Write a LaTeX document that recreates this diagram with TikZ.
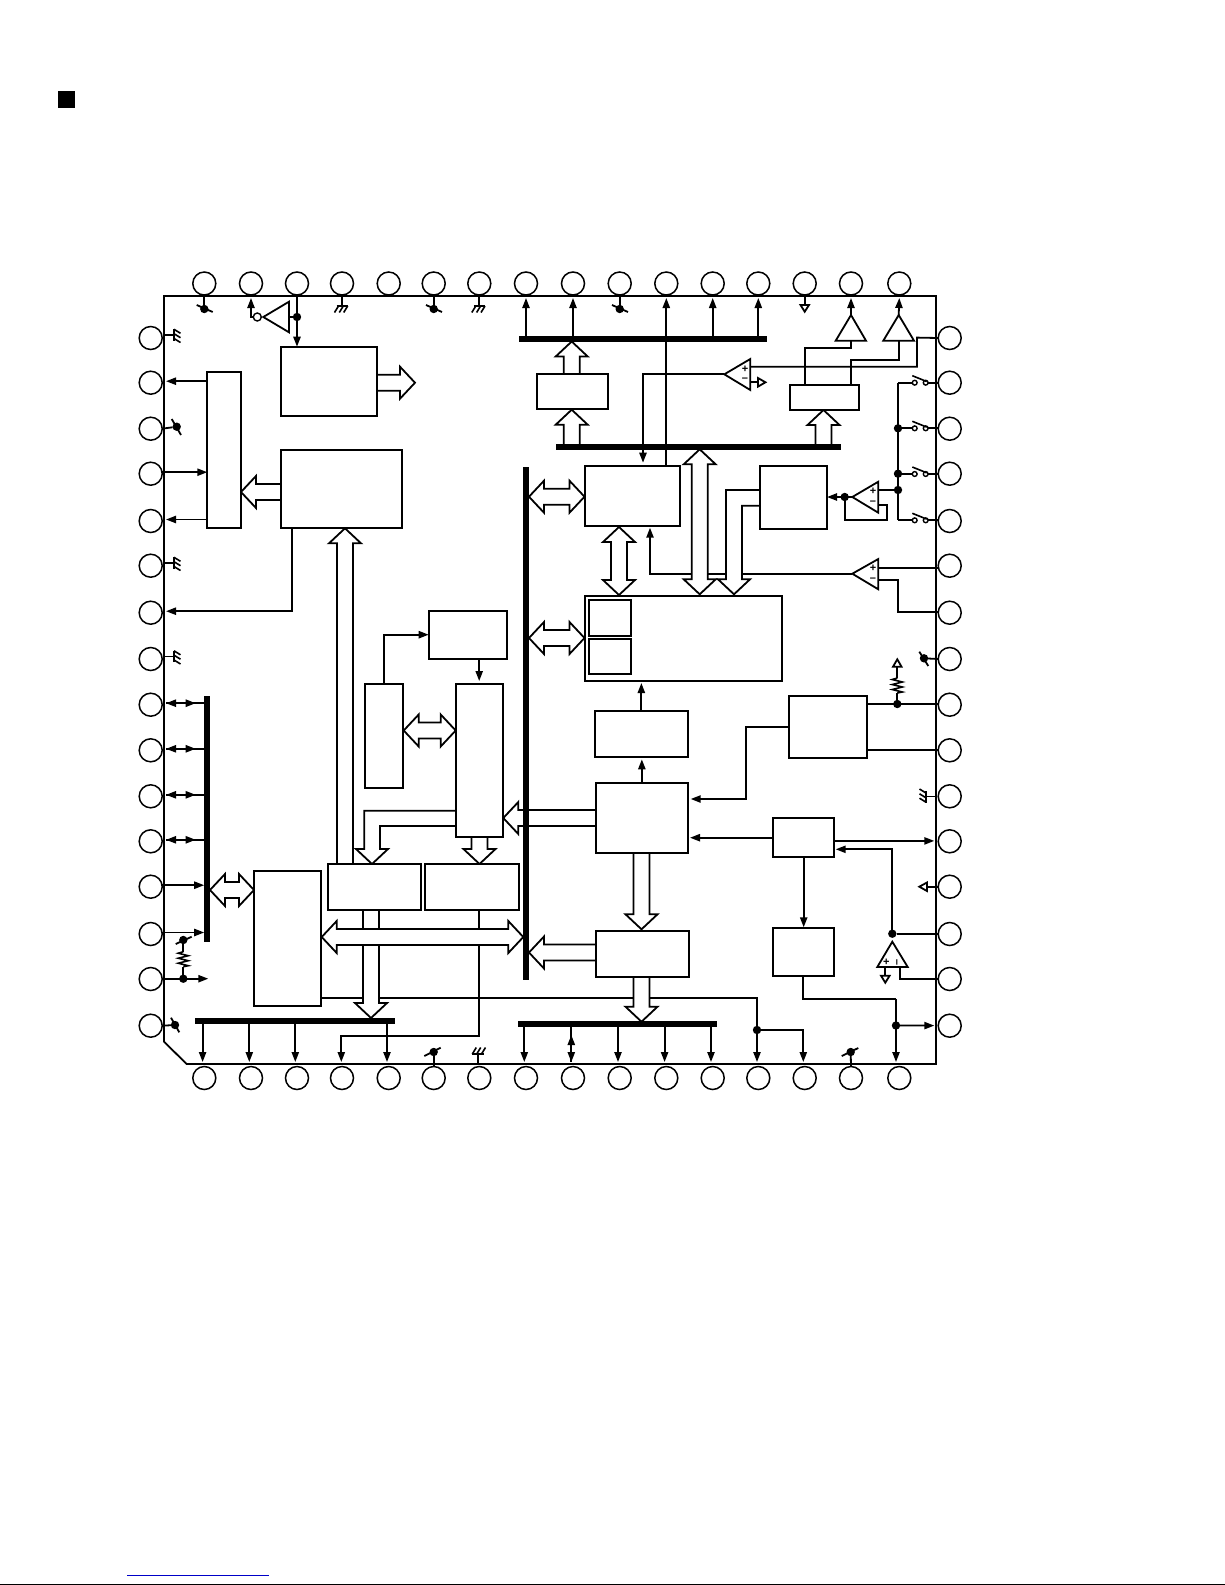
\documentclass[tikz,border=0pt]{standalone}
\usepackage{fontspec}
\setmainfont{Liberation Sans}
\usetikzlibrary{arrows.meta,calc}
\pgfdeclarelayer{back}
\pgfsetlayers{back,main}
\tikzset{
  wire/.style={line width=0.9pt,line join=miter},
  arr/.style={wire,-{Triangle[length=5pt,width=3.6pt]}},
  block/.style={draw,line width=0.9pt,fill=white,inner sep=0pt,outer sep=0pt},
  busbar/.style={fill=black,inner sep=0pt,outer sep=0pt},
  pinc/.style={circle,draw,line width=0.75pt,fill=white,inner sep=0pt,outer sep=0pt,minimum size=11.5pt},
  jdot/.style={circle,fill=black,inner sep=0pt,outer sep=0pt,minimum size=4.2pt},
  bub/.style={circle,draw,line width=0.7pt,fill=white,inner sep=0pt,outer sep=0pt,minimum size=#1},
  hollow/.style={line width=0.9pt,fill=white,line join=miter,draw=black},
  tinytri/.style={line width=0.9pt,fill=white,draw=black,line join=miter},
  polmark/.style={inner sep=0pt,outer sep=0pt,font=\fontsize{5.5}{5.5}\selectfont\bfseries},
  slashline/.style={line width=0.9pt}
}
\newcommand\mkbox[6]{%
  \pgfmathsetmacro\bw{(#5-#3)*0.5}\pgfmathsetmacro\bh{(#6-#4)*0.5}%
  \node[#1,minimum width=\bw pt,minimum height=\bh pt] (#2) at ({(#3+#5)/2},{(#4+#6)/2}) {};}
% single hollow arrow: base, tip
\newcommand\hol[2]{%
  \coordinate (hB) at #1; \coordinate (hT) at #2;
  \coordinate (hH) at ($(hT)!7.5pt!(hB)$);
  \path[hollow,draw=none] ($(hB)!4pt!90:(hT)$) -- ($(hH)!4pt!90:(hT)$) -- ($(hH)!4pt!-90:(hT)$) -- ($(hB)!4pt!-90:(hT)$) -- cycle;
  \draw[hollow] ($(hB)!4pt!90:(hT)$) -- ($(hH)!4pt!90:(hT)$) -- ($(hH)!8pt!90:(hT)$) -- (hT) -- ($(hH)!8pt!-90:(hT)$) -- ($(hH)!4pt!-90:(hT)$) -- ($(hB)!4pt!-90:(hT)$);}
% double hollow arrow: tip, tip
\newcommand\dbl[2]{%
  \coordinate (hA) at #1; \coordinate (hT) at #2;
  \coordinate (hH) at ($(hT)!7.5pt!(hA)$);
  \coordinate (hI) at ($(hA)!7.5pt!(hT)$);
  \draw[hollow] (hA) -- ($(hI)!8pt!90:(hT)$) -- ($(hI)!4pt!90:(hT)$) -- ($(hH)!4pt!90:(hT)$) -- ($(hH)!8pt!90:(hT)$) -- (hT) -- ($(hH)!8pt!-90:(hT)$) -- ($(hH)!4pt!-90:(hT)$) -- ($(hI)!4pt!-90:(hT)$) -- ($(hI)!8pt!-90:(hT)$) -- cycle;}
% ground: root point, rotation
\newcommand\gnd[2]{%
  \begin{scope}[shift={#1},rotate=#2]
    \draw[wire] (0,-10) -- (0,0) (-5.5,0) -- (6,0);
    \draw[wire,line width=0.8pt] (-3.5,0) -- (-7.5,6.5) (1.3,0) -- (-2.7,6.5) (5.7,0) -- (1.7,6.5);
  \end{scope}}
% no-connect dot: name, x, y, slash ends
\newcommand\nc[7]{%
  \node[jdot] (#1) at (#2,#3) {};
  \draw[slashline] (#4,#5) -- (#6,#7);}
\newcommand\zig[2]{%
  \draw[wire,line width=0.8pt] (#1,#2) -- ++(-5,1.5) -- ++(10,2.5) -- ++(-10,2.5) -- ++(10,2.5) -- ++(-10,2.5) -- ++(10,2.5) -- ++(-5,1);}
\begin{document}
\begin{tikzpicture}[x=0.5pt,y=-0.5pt]
\useasboundingbox (0,0) rectangle (1225,1585);
\begin{pgfonlayer}{back}
\fill[white] (0,0) rectangle (1225,1585);
\end{pgfonlayer}
\fill[black] (58,91) rectangle (75,108);
\draw[line width=0.5pt,color={rgb,255:red,0;green,0;blue,200}] (127,1575.3) -- (268.7,1575.3);
\draw[line width=0.8pt] (0,1584.3) -- (1225,1584.3);
% pins
\foreach \i/\x in {1/204.3,2/251,3/297,4/342,5/388.7,6/433.7,7/479.3,8/526,9/573,10/619.7,11/666.3,12/712.7,13/758.3,14/804.7,15/851,16/899.3}{
  \node[pinc] (T\i) at (\x,283.5) {};
  \node[pinc] (B\i) at (\x,1078) {};
  \coordinate (ti\i) at (\x,298);
  \coordinate (bi\i) at (\x-1.7,1062);
}
\foreach \i/\y in {1/338,2/382.7,3/428.7,4/473.7,5/521,6/565.7,7/612.7,8/659,9/704.7,10/750.3,11/796.3,12/841.3,13/886.7,14/934,15/979,16/1025.7}{
  \node[pinc] (L\i) at (150.7,\y) {};
  \node[pinc] (R\i) at (949.7,\y) {};
  \coordinate (li\i) at (166,\y-1.5);
  \coordinate (ri\i) at (934.3,\y-0.4);
}
% blocks
\mkbox{block}{bA}{280.7}{346.7}{376.7}{416}
\mkbox{block}{bB}{207.3}{372}{241}{527.7}
\mkbox{block}{bC}{280.7}{450}{401.7}{527.7}
\mkbox{block}{bD}{537.3}{373.7}{608.3}{409}
\mkbox{block}{bF}{584.7}{466}{680}{526}
\mkbox{block}{bG}{789.7}{385}{859.3}{410}
\mkbox{block}{bH}{760}{466}{827}{528.7}
\mkbox{block}{bI}{584.7}{596}{782}{681}
\mkbox{block}{bIa}{588.7}{600}{631}{635.7}
\mkbox{block}{bIb}{588.7}{638.7}{631}{674.3}
\mkbox{block}{bJ}{789}{695.7}{867.3}{758.3}
\mkbox{block}{bK}{594.7}{710.7}{688}{757}
\mkbox{block}{bL}{595.7}{783.3}{688}{853.3}
\mkbox{block}{bM}{772.7}{817.7}{834.3}{856.7}
\mkbox{block}{bN}{772.7}{928}{834.3}{975.7}
\mkbox{block}{bO}{595.7}{930.7}{689}{976.7}
\mkbox{block}{bP}{455.7}{684}{502.7}{836.7}
\mkbox{block}{bQ}{254}{871}{321}{1005.7}
\mkbox{block}{bE}{328}{864.3}{421.3}{910}
\mkbox{block}{bR}{425.3}{864.3}{519}{910}
\mkbox{block}{bS}{365}{684}{403.3}{787.7}
\mkbox{block}{bT}{428.7}{610.7}{507.3}{658.7}
% buses
\mkbox{busbar}{busa}{519}{335.9}{767}{341.5}
\mkbox{busbar}{busb}{556}{443.9}{840.7}{449.5}
\mkbox{busbar}{busv}{523.2}{466.7}{528.8}{980}
\mkbox{busbar}{busl}{204.2}{696}{209.8}{941.7}
\mkbox{busbar}{busc}{195}{1017.9}{395}{1023.5}
\mkbox{busbar}{busd}{518.3}{1021.2}{716.7}{1026.8}
% amplifier and buffer triangles
\coordinate (invA) at (263.3,317); \coordinate (invB) at (289,317);
\draw[tinytri] (invA) -- (289,301.7) -- (289,332.3) -- cycle;
\node[bub=4pt] (invO) at (257.3,317) {};
\coordinate (cmpa) at (724.3,374.3);
\draw[tinytri] (cmpa) -- (750.3,359) -- (750.3,390) -- cycle;
\coordinate (cmpb) at (852.3,497);
\draw[tinytri] (cmpb) -- (878.3,481.7) -- (878.3,512.7) -- cycle;
\coordinate (cmpc) at (852.3,573.7);
\draw[tinytri] (cmpc) -- (878.3,559) -- (878.3,589.3) -- cycle;
\coordinate (bufa) at (851,315);
\draw[tinytri] (bufa) -- (866,340.7) -- (835.7,340.7) -- cycle;
\coordinate (bufb) at (898.7,315);
\draw[tinytri] (bufb) -- (914,340.7) -- (883.3,340.7) -- cycle;
\coordinate (opa) at (892.3,941.7);
\draw[tinytri] (opa) -- (907.7,967) -- (877.3,967) -- cycle;
% polarity marks
\node[polmark] at (745,369) {+};
\node[polmark] at (745,380) {–};
\node[polmark] at (873,491) {+};
\node[polmark] at (873,503) {–};
\node[polmark] at (873,568.5) {+};
\node[polmark] at (873,580) {–};
\node[polmark] at (886.3,962) {+};
\node[polmark,rotate=90] at (898,962) {–};
% junction dots
\node[jdot] (dInv) at (297,317) {};
\node[jdot] (dSa) at (898,428.3) {};
\node[jdot] (dSb) at (898,473.7) {};
\node[jdot] (dSc) at (898,490) {};
\node[jdot] (dCmp) at (844.7,497) {};
\node[jdot] (dRr) at (897.3,704) {};
\node[jdot] (dRl) at (183.3,978.7) {};
\node[jdot] (dOp) at (892.3,933.7) {};
\node[jdot] (dNa) at (757,1030) {};
\node[jdot] (dNb) at (896,1025.5) {};
% no-connect symbols
\nc{ncA}{204.3}{309}{196.7}{305}{212.7}{312}
\nc{ncB}{433.7}{309}{426}{305}{442}{312}
\nc{ncC}{619.7}{309}{612}{305}{628}{312}
\nc{ncD}{176.7}{426.7}{171.7}{419}{181}{435}
\nc{ncE}{924}{658.3}{919.3}{651.7}{928.3}{666}
\nc{ncF}{183.3}{940}{175.7}{944}{191.7}{936.7}
\nc{ncG}{175}{1025}{171}{1017.7}{179.3}{1032.3}
\nc{ncH}{433.7}{1052}{424.3}{1056}{440.7}{1047.7}
\nc{ncI}{850.7}{1052}{841.7}{1056}{858.3}{1048}
% grounds
\gnd{(342,306)}{0}
\gnd{(479.3,306)}{0}
\gnd{(174,335)}{90}
\gnd{(174,563)}{90}
\gnd{(174,656.5)}{90}
\gnd{(478,1054)}{180}
\gnd{(926,796.5)}{-90}
% switches
\foreach \p/\y in {2/382.7,3/428.3,4/474,5/520.3}{
  \node[bub=2.4pt] (sa\p) at (914.7,\y) {};
  \node[bub=2.4pt] (sb\p) at (925.7,\y) {};
  \draw[wire,line width=0.8pt] (912.3,\y-7) -- (926.7,\y-1.2);
}
\coordinate (vsw) at (898,400);
\begin{pgfonlayer}{back}
% chip outline
\draw[wire] (164,296) -- (936,296) -- (936,1064) -- (186.7,1064) -- (164,1041.7) -- cycle;
% stubs to no-connects
\draw[wire] (T1.south) -- (ncA);
\draw[wire] (T6.south) -- (ncB);
\draw[wire] (T10.south) -- (ncC);
\draw[wire] (L3.east) -- (ncD);
\draw[wire] (R8.west) -- (ncE);
\draw[wire] (L16.east) -- (ncG);
\draw[wire] (B6.north) -- (ncH);
\draw[wire] (B15.north) -- (ncI);
% top left
\draw[arr] (invO.west) -| (ti2);
\draw[wire] (dInv) -- (invB);
\draw[arr] (T3.south) -- (T3 |- bA.north);
\draw[arr] (bB.west |- li2) -- (li2);
\draw[arr] (L4.east |- li4) -- (bB.west |- li4);
\draw[arr] (bB.west |- li5) -- (li5);
\draw[arr] (292.3,0 |- bC.south) |- (li7);
% connector S to T to P
\draw[arr] (bS.north) |- (bT.west);
\draw[arr] (bP.north |- bT.south) -- (bP.north |- 0,681);
% upper bus arrows
\draw[arr] (ti8 |- busa.north) -- (ti8);
\draw[arr] (ti9 |- busa.north) -- (ti9);
\draw[arr] (ti11 |- bF.north) -- (ti11);
\draw[arr] (ti12 |- busa.north) -- (ti12);
\draw[arr] (ti13 |- busa.north) -- (ti13);
% comparator one
\draw[arr] (cmpa) -| (643,462.7);
\draw[wire] (750.3,366.7) -- (917,366.7) -- (917,337.6) -- (R1.west);
\draw[wire] (750.3,382.3) -- (758,382.3);
\draw[arr] (bufa) -- (ti15);
\draw[arr] (bufb) -- (ti16);
\draw[wire] (805,0 |- bG.north) -- (805,348) -- (851,348) -- (851,340.7);
\draw[wire] (851.3,0 |- bG.north) -- (851.3,360) -- (898.7,360) -- (898.7,340.7);
\draw[wire] (T14.south) -- (804.7,305);
% switches
\foreach \p in {2,3,4,5}{
  \draw[wire] (vsw |- sa\p) -- (sa\p.west);
  \draw[wire] (sb\p.east) -- (sb\p -| R\p.west);
}
\draw[wire] (vsw |- sa2) -- (vsw |- sa5);
% comparator two
\draw[wire] (878.3,490) -- (dSc);
\draw[wire] (878.3,505) -- (886.7,505) -- (886.7,520.3) -- (844.7,520.3) -- (dCmp);
\draw[arr] (cmpb) -- (bH.east |- cmpb);
% comparator three
\draw[arr] (cmpc) -| (650,527.7);
\draw[wire] (878.3,568.3) -- (R6.west |- 0,568.3);
\draw[wire] (878.3,580) -- (898.3,580) -- (898.3,612.3) -- (R7.west |- 0,612.3);
% resistors and J
\draw[wire] (dRr) -- (dRr |- 0,693);
\zig{897.3}{678}
\draw[wire] (897.3,678) -- (897.3,666.7);
\draw[wire] (bJ.east |- dRr) -- (R9.west |- dRr);
\draw[wire] (bJ.east |- 0,750) -- (R10.west |- 0,750);
\draw[arr] (bJ.west |- 0,727) -- (746,727) -- (746,799) -- (690.7,799);
\draw[arr] (bK.north) -- (bK.north |- 0,683);
\draw[arr] (bL.north) -- (bL.north |- 0,759.3);
% M and N
\draw[arr] (bM.west |- 0,837.7) -- (690,837.7);
\draw[arr] (bM.east |- ri12) -- (ri12);
\draw[arr] (dOp) -- (892.3,849.3) -- (835.7,849.3);
\draw[wire] (dOp) -- (R14.west |- dOp);
\draw[wire] (900,967) -- (900,979.3) -- (R15.west |- 0,979.3);
\draw[wire] (885.3,967) -- (885.3,975.7);
\draw[arr] (803.7,0 |- bM.south) -- (803.7,927.3);
\draw[wire] (803.3,0 |- bN.south) -- (803.3,999) -- (896,999);
\draw[arr] (896,999) -- (896,1062);
\draw[arr] (dNb) -- (934.3,1025.6);
% hollow triangle stubs
\draw[wire] (R13.west) -- (927,886.7);
% left bus
\foreach \p in {9,10,11,12}{
  \draw[arr] (busl.west |- li\p) -- (li\p);
  \draw[arr] (li\p) -- (195.7,0 |- li\p);
}
\draw[arr] (L13.east |- li13) -- (busl.west |- li13);
\draw[arr] (L14.east |- li14) -- (busl.west |- li14);
\draw[arr] (L15.east |- dRl) -- (208.3,978.7);
\draw[wire] (dRl) -- (183.3,966.7);
\zig{183.3}{951.7}
\draw[wire] (183.3,951.7) -- (ncF);
% bottom rows
\foreach \p in {1,2,3,5}{\draw[arr] (bi\p |- busc.south) -- (bi\p);}
\foreach \p in {8,9,10,11,12}{\draw[arr] (bi\p |- busd.south) -- (bi\p);}
\draw[arr] (bi9) -- (bi9 |- 0,1035);
\draw[arr] (479,0 |- bR.south) -- (479,1036.3) -- (341.3,1036.3) -- (341.3,1062);
\draw[wire] (bQ.east |- 0,998) -- (757,998) -- (dNa);
\draw[arr] (dNa) -- (757,1062);
\draw[arr] (dNa) -- (803.3,1030) -- (803.3,1062);
% hollow arrows
\hol{(bA.east |- 0,382.7)}{(415,382.7)}
\hol{(bC.west |- 0,492)}{(bB.east |- 0,492)}
\hol{(345,864.3)}{(345,528.3)}
\hol{(571.7,409)}{(571.7,341.5)}
\hol{(571.7,446.7)}{(571.7,409.7)}
\hol{(823.5,446.7)}{(823.5,410)}
\dbl{(699.7,449.3)}{(699.7,594.3)}
\dbl{(619,527)}{(619,595)}
\dbl{(529,496.7)}{(584.5,496.7)}
\dbl{(529,638)}{(584.5,638)}
\dbl{(403.7,730.5)}{(455.7,730.5)}
\dbl{(210,890)}{(254,890)}
% hollow L shape from H to I
\draw[hollow] (bH.west |- 0,490) -- (726,490) -- (726,579.3) -- (718,579.3) -- (734,594.3) -- (750,579.3) -- (742,579.3) -- (742,505.7) -- (bH.west |- 0,505.7);
% hollow L shape from P to E
\draw[hollow] (bP.west |- 0,810.7) -- (364.3,810.7) -- (364.3,849) -- (356,849) -- (372,864) -- (388,849) -- (380,849) -- (380,826) -- (bP.west |- 0,826);
\hol{(479.5,836.7)}{(479.5,864)}
\hol{(bL.west |- 0,818)}{(503.3,818)}
\hol{(bO.west |- 0,952.5)}{(529,952.5)}
\hol{(641.5,853.3)}{(641.5,929.3)}
\hol{(641.5,976.7)}{(641.5,1021.7)}
\hol{(371,910)}{(371,1018)}
\dbl{(321.7,937)}{(523.3,937)}
\end{pgfonlayer}
% small hollow triangles
\draw[tinytri] (758,378) -- (765.5,382.3) -- (758,386.6) -- cycle;
\draw[tinytri] (800.5,305) -- (809,305) -- (804.7,311.7) -- cycle;
\draw[tinytri] (927,882.5) -- (927,891) -- (919.3,886.7) -- cycle;
\draw[tinytri] (893,666.7) -- (901.5,666.7) -- (897.3,659.3) -- cycle;
\draw[tinytri] (881,975.7) -- (889.6,975.7) -- (885.3,982.7) -- cycle;
\end{tikzpicture}
\end{document}
